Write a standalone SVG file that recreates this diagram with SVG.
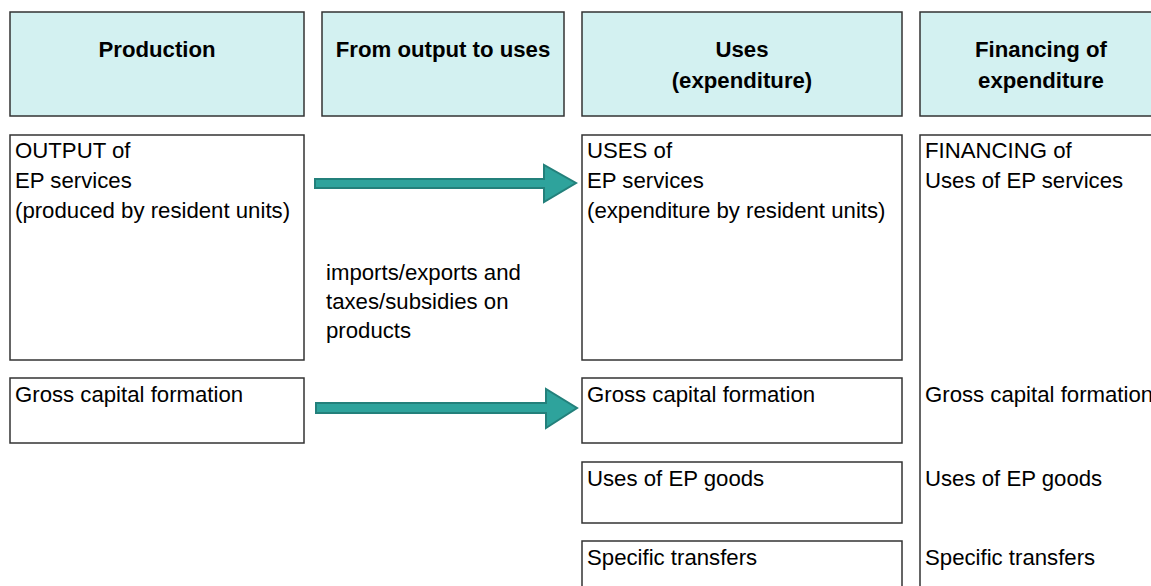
<svg xmlns="http://www.w3.org/2000/svg" width="1151" height="586" viewBox="0 0 1151 586">
<style>
.hdr{fill:#d3f1f1;stroke:#333;stroke-width:1.5}
.box{fill:#fff;stroke:#333;stroke-width:1.5}
.ht{font-family:"Liberation Sans",Arial,sans-serif;font-size:22.2px;font-weight:bold;fill:#000;text-anchor:middle}
.t{font-family:"Liberation Sans",Arial,sans-serif;font-size:22.2px;fill:#000}
.arr{fill:#2ea39c;stroke:#23807b;stroke-width:2;stroke-linejoin:miter}
</style>
<rect width="1151" height="586" fill="#fff"/>
<g id="hdr-production"><rect class="hdr" x="10" y="12" width="294" height="104"/><text class="ht" x="157" y="57">Production</text></g>
<g id="hdr-output-to-uses"><rect class="hdr" x="322" y="12" width="242" height="104"/><text class="ht" x="443" y="57">From output to uses</text></g>
<g id="hdr-uses"><rect class="hdr" x="582" y="12" width="320" height="104"/><text class="ht" x="742" y="57">Uses</text><text class="ht" x="742" y="88">(expenditure)</text></g>
<g id="hdr-financing"><rect class="hdr" x="920" y="12" width="300" height="104"/><text class="ht" x="1041" y="57">Financing of</text><text class="ht" x="1041" y="88">expenditure</text></g>
<g id="output"><rect class="box" x="10" y="135" width="294" height="225"/><text class="t" x="15" y="158">OUTPUT of</text><text class="t" x="15" y="188">EP services</text><text class="t" x="15" y="218">(produced by resident units)</text></g>
<g id="imports-label"><text class="t" x="326" y="280">imports/exports and</text><text class="t" x="326" y="309">taxes/subsidies on</text><text class="t" x="326" y="338">products</text></g>
<g id="uses"><rect class="box" x="582" y="135" width="320" height="225"/><text class="t" x="587" y="158">USES of</text><text class="t" x="587" y="188">EP services</text><text class="t" x="587" y="218">(expenditure by resident units)</text></g>
<g id="financing"><rect class="box" x="920" y="135" width="300" height="500"/><text class="t" x="925" y="158">FINANCING of</text><text class="t" x="925" y="188">Uses of EP services</text><text class="t" x="925" y="402">Gross capital formation</text><text class="t" x="925" y="486">Uses of EP goods</text><text class="t" x="925" y="565">Specific transfers</text></g>
<g id="gcf-prod"><rect class="box" x="10" y="378" width="294" height="65"/><text class="t" x="15" y="402">Gross capital formation</text></g>
<g id="gcf-uses"><rect class="box" x="582" y="378" width="320" height="65"/><text class="t" x="587" y="402">Gross capital formation</text></g>
<g id="ep-goods"><rect class="box" x="582" y="462" width="320" height="61"/><text class="t" x="587" y="486">Uses of EP goods</text></g>
<g id="transfers"><rect class="box" x="582" y="541" width="320" height="60"/><text class="t" x="587" y="565">Specific transfers</text></g>
<g id="connectors">
<polygon class="arr" points="315,179 544,179 544,165 576,183 544,202 544,188 315,188"/>
<polygon class="arr" points="316,403 546,403 546,389 577,408 546,428 546,413 316,413"/>
</g>
</svg>
